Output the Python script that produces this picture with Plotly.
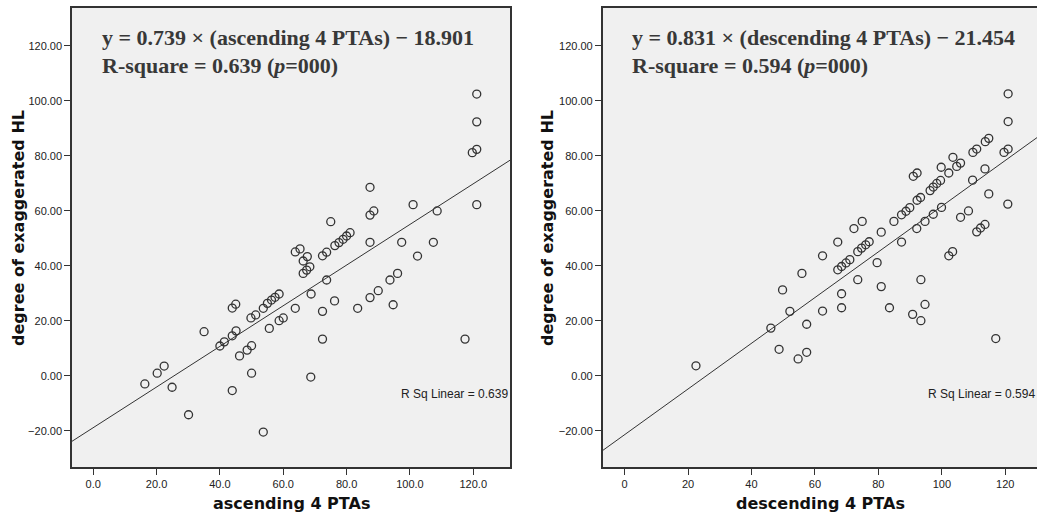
import plotly.graph_objects as go

# ---------------- data ----------------
asc_x = [16.3, 20.2, 22.4, 24.9, 30.1, 35.0, 40.0, 41.4, 43.9, 45.0, 43.9, 45.1, 46.2, 48.6,
         50.0, 50.0, 43.9, 53.7, 49.8, 51.3, 53.7, 55.6, 55.0, 56.3, 57.4, 58.7, 58.7, 60.0,
         63.8, 68.8, 72.4, 76.2, 73.7, 63.8, 65.3, 66.3, 67.6, 66.3, 67.4, 68.4, 72.4, 73.7,
         75.0, 76.3, 77.6, 78.9, 80.0, 81.1, 83.5, 87.4, 90.0, 87.4, 87.4, 88.6, 87.4, 93.7,
         96.1, 94.7, 97.4, 101.0, 102.4, 107.4, 108.6, 119.7, 121.1, 121.1, 121.1, 121.1,
         117.4, 72.4, 68.7]
asc_y = [-3.0, 0.9, 3.5, -4.2, -14.2, 16.0, 10.8, 12.3, 24.6, 26.0, 14.5, 16.3, 7.2, 9.3,
         10.9, 0.9, -5.4, -20.5, 21.0, 22.1, 24.5, 17.2, 26.3, 27.5, 28.5, 29.7, 20.0, 21.0,
         24.5, 29.7, 23.4, 27.2, 34.8, 45.0, 46.1, 41.7, 43.3, 37.2, 38.4, 39.6, 43.6, 44.9,
         56.0, 47.3, 48.4, 49.6, 50.8, 52.0, 24.5, 28.4, 30.9, 48.5, 58.4, 59.9, 68.5, 34.8,
         37.2, 25.8, 48.5, 62.2, 43.5, 48.5, 59.9, 81.1, 82.3, 92.3, 102.4, 62.2,
         13.3, 13.3, -0.5]

desc_x = [22.5, 46.1, 48.7, 54.7, 57.4, 52.1, 49.8, 55.9, 57.4, 62.4, 62.4, 68.4, 68.4, 67.2,
          67.2, 68.4, 69.8, 71.0, 72.3, 74.9, 73.5, 73.5, 74.7, 76.0, 77.1, 80.9, 79.6, 80.9,
          83.5, 84.9, 87.3, 87.3, 88.7, 89.9, 92.1, 92.2, 93.3, 94.7, 97.3, 99.9, 96.3, 97.3,
          98.4, 99.6, 93.4, 94.7, 93.4, 90.8, 102.2, 103.4, 105.9, 108.4, 109.7, 111.0, 112.2,
          113.6, 114.8, 120.8, 120.9, 120.9, 119.6, 120.9, 114.8, 113.7, 109.8, 111.0, 103.5,
          104.7, 105.9, 102.2, 99.8, 91.0, 92.2, 113.6, 117.0]
desc_y = [3.6, 17.3, 9.6, 6.1, 8.5, 23.4, 31.2, 37.2, 18.7, 43.6, 23.5, 29.8, 24.7, 48.6,
          38.5, 39.7, 41.0, 42.2, 53.5, 56.1, 34.9, 45.1, 46.4, 47.6, 48.7, 52.2, 41.1, 32.4,
          24.7, 56.1, 48.6, 58.5, 59.8, 61.1, 53.5, 63.8, 64.8, 56.1, 58.7, 61.2, 67.3, 68.6,
          69.9, 71.0, 34.9, 25.9, 20.0, 22.3, 43.6, 45.1, 57.6, 59.9, 71.1, 52.3, 53.7,
          55.0, 66.1, 62.4, 102.5, 92.4, 81.2, 82.4, 86.3, 85.1, 81.2, 82.4, 79.4,
          76.1, 77.3, 73.7, 75.8, 72.5, 73.7, 75.2, 13.5]

asc_fit = {"slope": 0.739, "intercept": -18.901, "r2": 0.639}
desc_fit = {"slope": 0.831, "intercept": -21.454, "r2": 0.594}

y_ticks = [-20, 0, 20, 40, 60, 80, 100, 120]
x_ticks = [0, 20, 40, 60, 80, 100, 120]
asc_xticktext = ["0.0", "20.0", "40.0", "60.0", "80.0", "100.0", "120.0"]
desc_xticktext = ["0", "20", "40", "60", "80", "100", "120"]
y_ticktext = ["\u221220.00", "0.00", "20.00", "40.00", "60.00", "80.00", "100.00", "120.00"]

x_title_l = "ascending 4 PTAs"
x_title_r = "descending 4 PTAs"
y_title = "degree of exaggerated HL"

eq_l1 = "y = 0.739 \u00d7 (ascending 4 PTAs) \u2212 18.901"
eq_l2 = "R-square = 0.639 (<i>p</i>=000)"
eq_r1 = "y = 0.831 \u00d7 (descending 4 PTAs) \u2212 21.454"
eq_r2 = "R-square = 0.594 (<i>p</i>=000)"

# ---------------- styling ----------------
W, H = 1037, 514
xr_l = [-6.7, 131.6]
xr_r = [-6.9, 130.0]
yr = [-33.2, 133.7]
dark = "#333333"
bg = "#f0f0f0"

fig = go.Figure()

marker = dict(symbol="circle-open", size=8, color=dark, line=dict(width=1.3, color=dark))

fig.add_trace(go.Scatter(x=asc_x, y=asc_y, mode="markers", marker=marker,
                         xaxis="x", yaxis="y", showlegend=False))
fig.add_trace(go.Scatter(x=xr_l, y=[asc_fit["slope"] * v + asc_fit["intercept"] for v in xr_l],
                         mode="lines", line=dict(color=dark, width=1),
                         xaxis="x", yaxis="y", showlegend=False))
fig.add_trace(go.Scatter(x=desc_x, y=desc_y, mode="markers", marker=marker,
                         xaxis="x2", yaxis="y2", showlegend=False))
fig.add_trace(go.Scatter(x=xr_r, y=[desc_fit["slope"] * v + desc_fit["intercept"] for v in xr_r],
                         mode="lines", line=dict(color=dark, width=1),
                         xaxis="x2", yaxis="y2", showlegend=False))

tickfont = dict(family="Liberation Sans, Arial, sans-serif", size=11, color="#222222")
ydom = [1 - 467 / H, 1 - 8 / H]

common_x = dict(showgrid=False, zeroline=False, showline=True, linecolor=dark, linewidth=1.5,
                ticks="outside", ticklen=6, tickcolor=dark, tickfont=tickfont,
                tickvals=x_ticks, mirror=True)
common_y = dict(showgrid=False, zeroline=False, showline=True, linecolor=dark, linewidth=1.5,
                ticks="outside", ticklen=6, tickcolor=dark, tickfont=tickfont,
                tickvals=y_ticks, ticktext=y_ticktext, range=yr, domain=ydom)

fig.update_layout(
    width=W, height=H,
    margin=dict(l=0, r=0, t=0, b=0),
    paper_bgcolor="white", plot_bgcolor=bg,
    xaxis=dict(common_x, domain=[72 / W, 510 / W], range=xr_l, ticktext=asc_xticktext),
    yaxis=dict(common_y, anchor="x", mirror=True),
    xaxis2=dict(common_x, domain=[602.7 / W, 1.0], range=xr_r, ticktext=desc_xticktext, anchor="y2"),
    yaxis2=dict(common_y, anchor="x2", mirror=False),
)

title_font = dict(family="DejaVu Sans, sans-serif", size=16, color="#111111")
eq_font = dict(family="Liberation Serif, Times New Roman, serif", size=22, color="#383838")
small_font = dict(family="Liberation Sans, Arial, sans-serif", size=12, color="#222222")

ann = []
ann.append(dict(text="<b>" + x_title_l + "</b>", xref="paper", yref="paper",
                x=291 / W, y=1 - 503 / H, showarrow=False, font=title_font,
                xanchor="center", yanchor="middle"))
ann.append(dict(text="<b>" + x_title_r + "</b>", xref="paper", yref="paper",
                x=820 / W, y=1 - 503 / H, showarrow=False, font=title_font,
                xanchor="center", yanchor="middle"))
ann.append(dict(text="<b>" + y_title + "</b>", xref="paper", yref="paper",
                x=18 / W, y=1 - 228 / H, showarrow=False, font=title_font, textangle=-90,
                xanchor="center", yanchor="middle"))
ann.append(dict(text="<b>" + y_title + "</b>", xref="paper", yref="paper",
                x=547 / W, y=1 - 228 / H, showarrow=False, font=title_font, textangle=-90,
                xanchor="center", yanchor="middle"))
for txt, xp, yp in [(eq_l1, 100, 38), (eq_l2, 100, 65), (eq_r1, 630, 38), (eq_r2, 630, 65)]:
    ann.append(dict(text="<b>" + txt + "</b>", xref="paper", yref="paper",
                    x=xp / W, y=1 - yp / H, showarrow=False, font=eq_font,
                    xanchor="left", yanchor="middle"))
ann.append(dict(text="R Sq Linear = %.3f" % asc_fit["r2"], xref="x", yref="y",
                x=96.5, y=-6.7, showarrow=False, font=small_font,
                xanchor="left", yanchor="middle"))
ann.append(dict(text="R Sq Linear = %.3f" % desc_fit["r2"], xref="x2", yref="y2",
                x=95.0, y=-6.7, showarrow=False, font=small_font,
                xanchor="left", yanchor="middle"))
fig.update_layout(annotations=ann)

fig.write_html("out.html", config={"displayModeBar": False},
               post_script="document.body.style.margin='0';document.body.style.overflow='hidden';")
